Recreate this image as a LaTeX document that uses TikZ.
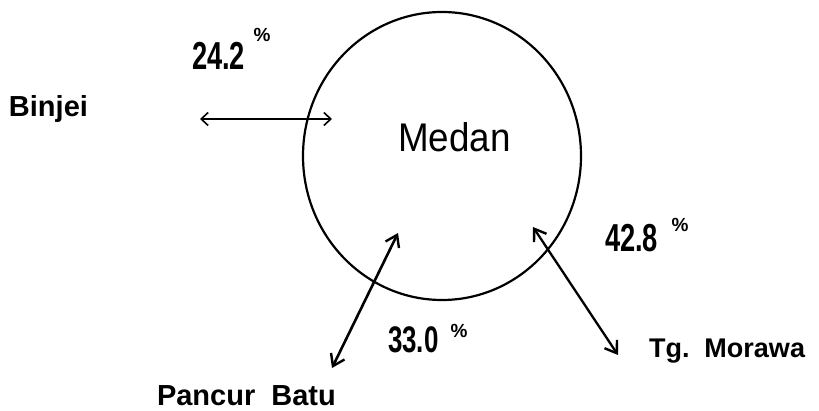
\documentclass[tikz,border=0pt]{standalone}
\usepackage{fontspec}
\setmainfont{Liberation Sans}
\newfontfamily\numfont[FakeStretch=0.7]{Liberation Sans}
\newfontfamily\medanfont[FakeStretch=0.92]{Liberation Sans}
\usetikzlibrary{arrows.meta,shapes.geometric}
\tikzset{
  txt/.style={inner sep=0pt, outer sep=0pt, text=black},
  num/.style={txt, font=\numfont\bfseries\fontsize{39}{40}\selectfont},
  pct/.style={txt, font=\bfseries\fontsize{19}{19}\selectfont},
  place/.style={txt, font=\bfseries\fontsize{28}{30}\selectfont},
  thinarrow/.style={line width=1.4pt, {Straight Barb[length=7pt,width=13pt,line width=1.6pt]}-{Straight Barb[length=7pt,width=13pt,line width=1.6pt]}},
  thickarrow/.style={line width=2.6pt, {Straight Barb[length=11pt,width=15pt,line width=2.4pt]}-{Straight Barb[length=11pt,width=15pt,line width=2.4pt]}},
}
\begin{document}
\begin{tikzpicture}[x=1pt,y=-1pt]
\useasboundingbox[fill=white] (0,0) rectangle (819,411);
% city circle
\node[draw, ellipse, line width=2.2pt, minimum width=278pt, minimum height=288pt, inner sep=0pt] (city) at (442,156) {};
\node[txt, anchor=base west, font=\medanfont\fontsize{40}{42}\selectfont] (medan) at (398,152) {Medan};
% places
\node[place, anchor=base west, font=\bfseries\fontsize{29}{30}\selectfont] (binjei) at (9,117) {Binjei};
\node[place, anchor=base west, font=\bfseries\fontsize{27}{29}\selectfont] (morawa) at (649,358) {Tg.\ \ Morawa};
\node[place, anchor=base west, font=\bfseries\fontsize{29}{30}\selectfont] (pancur) at (157,406) {Pancur\ \ Batu};
% percentages
\node[num, anchor=base west] (p1) at (192,70) {24.2};
\node[pct] (p1s) at (262,35) {\%};
\node[num, anchor=base west, font=\numfont\bfseries\fontsize{37}{38}\selectfont] (p2) at (388,353) {33.0};
\node[pct] (p2s) at (459,331) {\%};
\node[num, anchor=base west] (p3) at (605,252) {42.8};
\node[pct] (p3s) at (680,225) {\%};
% arrow end points
\coordinate (b1) at (200,119);
\coordinate (b2) at (332,119);
\coordinate (c1) at (398,233);
\coordinate (c2) at (332,368);
\coordinate (d1) at (533,227);
\coordinate (d2) at (618,355);
\draw[thinarrow] (b1) -- (b2);
\draw[thickarrow] (c1) -- (c2);
\draw[thickarrow, line width=2.3pt] (d1) -- (d2);
\end{tikzpicture}
\end{document}
